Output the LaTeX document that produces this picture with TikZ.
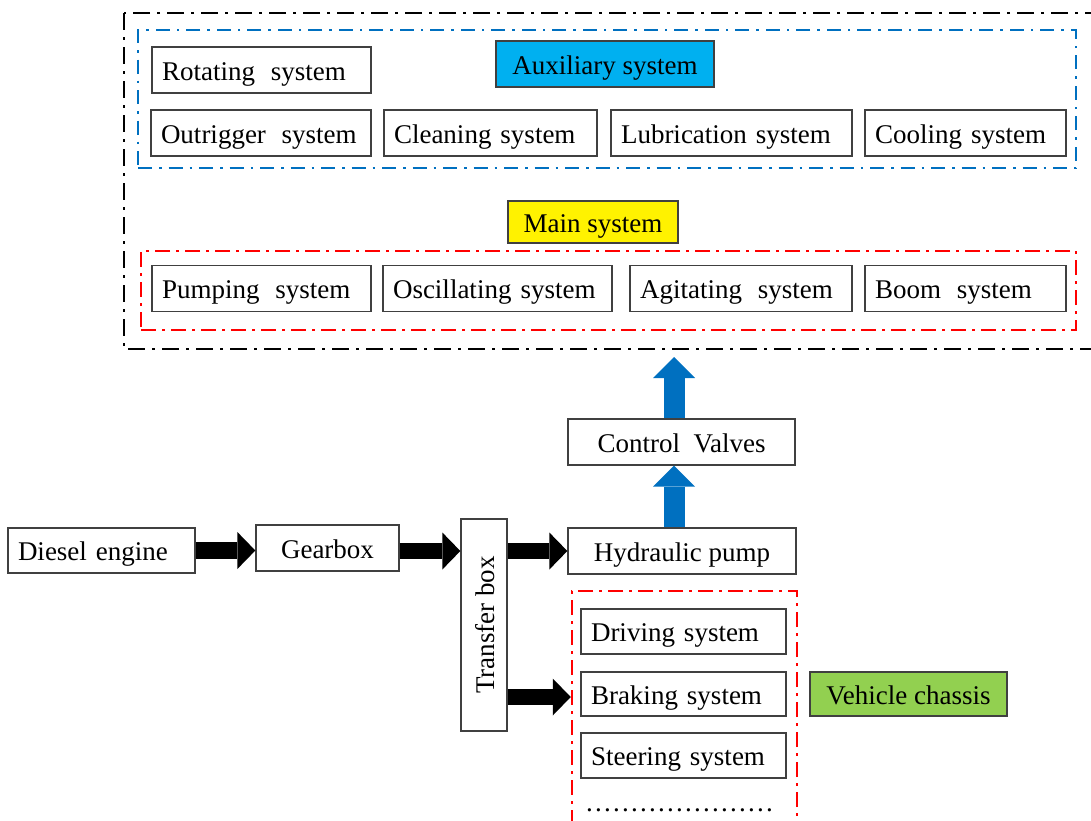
\documentclass[tikz,border=0pt]{standalone}
\usepackage{fontspec}
\setmainfont{Liberation Serif}
\usetikzlibrary{arrows.meta}
\definecolor{auxblue}{RGB}{0,176,240}
\definecolor{frameblue}{RGB}{0,112,192}
\definecolor{chassisgreen}{RGB}{146,208,80}
\definecolor{boxgray}{RGB}{64,64,64}
\newcommand\wsp{\hspace{0.25em}\ }
\newcommand\dotrow{\hbox to 190pt{\leaders\hbox to 9pt{\hss.\hss}\hfill}}

\begin{document}
\begin{tikzpicture}[x=1pt,y=-1pt,
  every node/.style={font=\fontsize{27}{30}\selectfont},
  lbl/.style={text height=22pt, text depth=2pt},
  sysbox/.style={lbl, draw=boxgray, line width=1.3pt, inner xsep=10pt, inner ysep=0pt,
                 minimum height=46pt, align=left},
  cbox/.style={lbl, draw=boxgray, line width=1.3pt, inner sep=0pt, minimum height=46pt},
  tagbox/.style={lbl, draw=boxgray, line width=1.3pt, inner sep=0pt},
  outerframe/.style={draw=black, line width=2.5pt, dash pattern=on 17pt off 7pt on 3pt off 7pt},
  auxframe/.style={draw=frameblue, line width=2.4pt, inner sep=0pt,
                   dash pattern=on 14pt off 7pt on 2.5pt off 7pt},
  redframe/.style={draw=red, line width=2.5pt, inner sep=0pt,
                   dash pattern=on 15pt off 6pt on 3pt off 6pt},
  powerarrow/.style={line width=16.5pt, black,
                     -{Triangle[width=37pt,length=18pt,line width=0pt]}},
  flowarrow/.style={line width=21pt, frameblue,
                    -{Triangle[width=42pt,length=21pt,line width=0pt]}},
]
\useasboundingbox (0,0) rectangle (1091,820);
\clip (0,0) rectangle (1091,820);

% outer frame of the working systems (runs past the right edge)
\draw[outerframe] (124,13) rectangle (1110,349);

% auxiliary systems
\node[auxframe, minimum width=938pt, minimum height=138pt] (auxf) at (607,99) {};
\node[tagbox, fill=auxblue, minimum width=218pt, minimum height=46pt] (aux) at (605,64) {Auxiliary system};
\node[sysbox, text width=199pt] (rot) at (261.5,70) {Rotating\wsp system};
\node[sysbox, text width=200pt] (outr) at (261,133) {Outrigger\wsp system};
\node[sysbox, text width=193pt] (cln) at (490.5,133) {Cleaning system};
\node[sysbox, text width=221pt] (lub) at (731.5,133) {Lubrication system};
\node[sysbox, text width=181pt] (cool) at (965.5,133) {Cooling system};

% main systems
\node[tagbox, fill=yellow, minimum width=170pt, minimum height=42pt] (mainsys) at (593,222) {Main system};
\node[redframe, minimum width=935pt, minimum height=79pt] (mainf) at (608.5,290.5) {};
\node[sysbox, text width=199pt] (pump) at (261.5,288.5) {Pumping\wsp system};
\node[sysbox, text width=209pt] (osc) at (497.5,288.5) {Oscillating system};
\node[sysbox, text width=202pt] (agi) at (741,288.5) {Agitating\wsp system};
\node[sysbox, text width=181pt] (boom) at (965.5,288.5) {Boom\wsp system};

% power train
\node[sysbox, text width=167pt, minimum height=45pt] (de) at (101.5,550.5) {Diesel engine};
\node[cbox, minimum width=143pt] (gb) at (327.5,548) {Gearbox};
\node[cbox, rotate=90, minimum width=212pt] (tb) at (484,625) {Transfer box};
\node[cbox, minimum width=228pt] (hp) at (682,551) {Hydraulic pump};
\node[cbox, minimum width=227pt] (cv) at (681.5,442) {Control\wsp Valves};
\coordinate (mainin) at (674,357);

% vehicle chassis
\node[redframe, minimum width=225pt, minimum height=231pt] (chf) at (684.5,706.5) {};
\node[sysbox, text width=185pt, minimum height=45pt] (drv) at (683.5,631.5) {Driving system};
\node[sysbox, text width=185pt, minimum height=44pt] (brk) at (683.5,694) {Braking system};
\node[sysbox, text width=185pt, minimum height=45pt] (steer) at (683.5,755.5) {Steering system};
\node[inner sep=0pt] (dots) at (680,810) {\dotrow};
\node[tagbox, fill=chassisgreen, minimum width=197pt, minimum height=44pt] (vc) at (908.5,694) {Vehicle chassis};

% mechanical power flow (tb is turned: its north side faces left)
\draw[powerarrow] (de.east) -- (de.east -| gb.west);
\draw[powerarrow] ([yshift=-3pt]gb.east) -- ([yshift=-3pt]gb.east -| tb.north);
\draw[powerarrow] (hp.west -| tb.south) -- (hp.west);
\draw[powerarrow] ([yshift=-3pt]brk.west -| tb.south) -- ([yshift=-3pt]brk.west -| chf.west);

% hydraulic flow
\draw[flowarrow] ([xshift=-8pt]hp.north) -- ([xshift=-7.5pt]cv.south);
\draw[flowarrow] ([xshift=-7.5pt]cv.north) -- (mainin);
\end{tikzpicture}
\end{document}
